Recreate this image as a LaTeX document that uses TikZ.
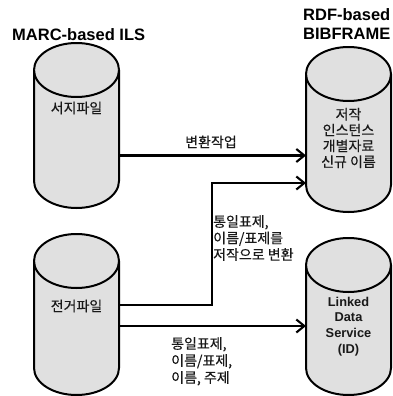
\documentclass[tikz,border=0pt]{standalone}
\usepackage{fontspec}
\setmainfont{Liberation Sans}
\newfontfamily\cjk[FakeBold=0.25]{Noto Sans CJK KR}
\usetikzlibrary{arrows.meta}
\definecolor{dbgrey}{RGB}{224,224,224}
\tikzset{
  db/.style={rectangle,draw=none,minimum width=85pt,inner sep=0pt,outer sep=0pt},
  dbline/.style={draw=black,fill=dbgrey,line width=2pt,line join=round},
  conn/.style={draw=black,line width=2.1pt,-{Straight Barb[length=8pt,width=13pt,line width=2.1pt]}},
  ttl/.style={font=\fontsize{16.5}{19}\selectfont\bfseries,align=left,inner sep=0pt},
  kor/.style={font=\cjk\fontsize{14}{15.8}\selectfont,align=center,inner sep=0pt,text=black!90},
  korl/.style={kor,align=left,font=\cjk\fontsize{14}{16.5}\selectfont},
  korw/.style={kor,align=left,font=\cjk\fontsize{14}{17}\selectfont},
  eng/.style={font=\fontsize{12.8}{15.7}\selectfont\bfseries,align=center,inner sep=0pt,text=black!90},
}
\newcommand{\dbdraw}[1]{%
  \path[dbline] (#1.north west) -- (#1.south west)
    arc[start angle=180,end angle=360,x radius=42.5pt,y radius=27pt]
    -- (#1.north east)
    arc[start angle=0,end angle=180,x radius=42.5pt,y radius=27pt] -- cycle;
  \path[dbline] (#1.north west)
    arc[start angle=180,end angle=360,x radius=42.5pt,y radius=27pt];
}
\begin{document}
\begin{tikzpicture}[x=1pt,y=-1pt]
\useasboundingbox (0,0) rectangle (392,396);
\node[db,minimum height=111pt] (bib) at (76.5,125.5) {};
\node[db,minimum height=107pt] (auth) at (76.5,314.5) {};
\node[db,minimum height=111pt] (bf) at (348.5,129.5) {};
\node[db,minimum height=103pt] (lds) at (348.5,316.5) {};
\dbdraw{bib}
\dbdraw{auth}
\dbdraw{bf}
\dbdraw{lds}
\node[ttl,anchor=west] (t1) at (12,34.5) {MARC-based ILS};
\node[ttl,anchor=west] (t2) at (303,24.5) {RDF-based\\BIBFRAME};
\node[kor] (k1) at (76.5,108) {서지파일};
\node[kor] (k2) at (76.5,306) {전거파일};
\node[kor] (k3) at (348.5,138) {저작\\인스턴스\\개별자료\\신규 이름};
\node[eng] (k4) at (348.5,326.5) {Linked\\Data\\Service\\(ID)};
\node[kor] (k5) at (211,142) {변환작업};
\node[korl,anchor=north west] (k6) at (213,215) {통일표제,\\이름/표제를\\저작으로 변환};
\node[korw,anchor=north west] (k7) at (171,337) {통일표제,\\이름/표제,\\이름, 주제};
\coordinate (a1) at (bib.east |- 0,155.5);
\coordinate (a2) at (bf.west |- 0,155.5);
\coordinate (b1) at (auth.east |- 0,305);
\coordinate (b2) at (212,305);
\coordinate (b3) at (212,183);
\coordinate (b4) at (bf.west |- 0,183);
\coordinate (c1) at (auth.east |- 0,326);
\coordinate (c2) at (lds.west |- 0,326);
\draw[conn] (a1) -- (a2);
\draw[conn] (b1) -- (b2) -- (b3) -- (b4);
\draw[conn] (c1) -- (c2);
\end{tikzpicture}
\end{document}
